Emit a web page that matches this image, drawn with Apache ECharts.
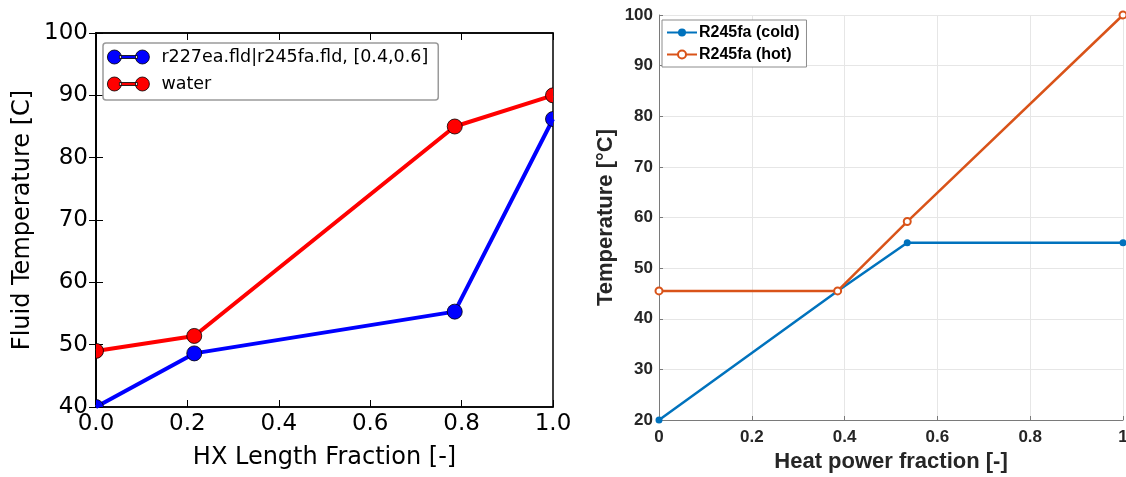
<!DOCTYPE html>
<html>
<head>
<meta charset="utf-8">
<script src="https://cdn.jsdelivr.net/npm/echarts@6/dist/echarts.min.js"></script>
<style>
html,body{margin:0;padding:0;background:#fff;}
#c{width:1126px;height:477px;}
</style>
</head>
<body>
<div id="c"></div>
<script>
// Left chart data
const leftX = [0.0, 0.215, 0.785, 1.0];
const leftMixture = [40.0, 48.6, 55.3, 86.2];
const leftWater = [49.0, 51.4, 85.0, 90.0];
const leftNames = ['r227ea.fld|r245fa.fld, [0.4,0.6]', 'water'];

// Right chart data
const rightX = [0.0, 0.385, 0.535, 1.0];
const rightCold = [20.0, 45.5, 55.0, 55.0];
const rightHot = [45.5, 45.5, 59.2, 100.0];
const rightNames = ['R245fa (cold)', 'R245fa (hot)'];

const pair = (xs, ys) => xs.map((x, i) => [x, ys[i]]);

const chart = echarts.init(document.getElementById('c'), null, {renderer: 'canvas'});

const leftFont = 'DejaVu Sans';
const rightFont = 'Liberation Sans';
const twoDots = 'path://M0,7a7,7 0 1,0 14,0a7,7 0 1,0 -14,0Z M12,5.5h18v3h-18Z M28,7a7,7 0 1,0 14,0a7,7 0 1,0 -14,0Z';

const leftTick = {show: true, inside: true, length: 7, lineStyle: {color: '#000', width: 1}};

function markerSeries(name, data, color, z) {
  return {
    name: name, type: 'custom', xAxisIndex: 0, yAxisIndex: 0,
    data: data, clip: true, z: z, silent: true,
    renderItem: function (params, api) {
      const p = api.coord([api.value(0), api.value(1)]);
      return {
        type: 'circle',
        shape: {cx: p[0], cy: p[1], r: 7.5},
        style: {fill: color, stroke: '#000', lineWidth: 0.8}
      };
    }
  };
}

const option = {
  animation: false,
  backgroundColor: '#fff',
  grid: [
    {left: 96, top: 33, width: 457, height: 374, show: true, borderColor: '#000', borderWidth: 1.5, backgroundColor: 'transparent', containLabel: false, outerBoundsMode: 'none'},
    {left: 659, top: 15, width: 464, height: 405, containLabel: false, outerBoundsMode: 'none'}
  ],
  legend: [
    {
      data: leftNames,
      orient: 'vertical',
      left: 103, top: 43,
      padding: [4, 10, 6, 4],
      itemGap: 7,
      itemWidth: 42, itemHeight: 14,
      icon: twoDots,
      backgroundColor: '#fff',
      borderColor: '#9a9a9a', borderWidth: 1.5, borderRadius: 3,
      textStyle: {fontFamily: leftFont, fontSize: 17.5, color: '#000', lineHeight: 20, padding: [0, 0, 0, 7]},
      itemStyle: {borderColor: '#000', borderWidth: 0.8}
    },
    {
      data: rightNames,
      orient: 'vertical',
      left: 662, top: 20,
      padding: [3, 7, 3, 4],
      itemGap: 3,
      itemWidth: 30, itemHeight: 10,
      backgroundColor: '#fff',
      borderColor: '#8c8c8c', borderWidth: 1, borderRadius: 0,
      textStyle: {fontFamily: rightFont, fontSize: 16, fontWeight: 'bold', color: '#000', lineHeight: 19, padding: [0, 0, 0, -3]}
    }
  ],
  xAxis: [
    {
      gridIndex: 0, type: 'value', min: 0, max: 1, interval: 0.2,
      name: 'HX Length Fraction [-]', nameLocation: 'middle', nameGap: 39,
      nameTextStyle: {fontFamily: leftFont, fontSize: 24, color: '#000'},
      axisLine: {show: true, lineStyle: {color: '#000', width: 1.5}},
      axisTick: leftTick,
      axisLabel: {fontFamily: leftFont, fontSize: 23, color: '#000', margin: 6, formatter: v => v.toFixed(1)},
      splitLine: {show: false}
    },
    {
      gridIndex: 0, type: 'value', min: 0, max: 1, interval: 0.2, position: 'top',
      axisLine: {show: true, lineStyle: {color: '#000', width: 1.5}},
      axisTick: leftTick, axisLabel: {show: false}, splitLine: {show: false}
    },
    {
      gridIndex: 1, type: 'value', min: 0, max: 1, interval: 0.2,
      name: 'Heat power fraction [-]', nameLocation: 'middle', nameGap: 31,
      nameTextStyle: {fontFamily: rightFont, fontSize: 22, fontWeight: 'bold', color: '#262626'},
      axisLine: {show: true, lineStyle: {color: '#7a7a7a', width: 1}},
      axisTick: {show: true, inside: true, length: 4, lineStyle: {color: '#7a7a7a'}},
      axisLabel: {fontFamily: rightFont, fontSize: 17, fontWeight: 'bold', color: '#262626', margin: 9},
      splitLine: {show: true, lineStyle: {color: '#e6e6e6', width: 1}}
    }
  ],
  yAxis: [
    {
      gridIndex: 0, type: 'value', min: 40, max: 100, interval: 10,
      name: 'Fluid Temperature [C]', nameLocation: 'middle', nameGap: 61,
      nameTextStyle: {fontFamily: leftFont, fontSize: 24, color: '#000'},
      axisLine: {show: true, lineStyle: {color: '#000', width: 1.5}},
      axisTick: leftTick,
      axisLabel: {fontFamily: leftFont, fontSize: 23, color: '#000', margin: 8},
      splitLine: {show: false}
    },
    {
      gridIndex: 0, type: 'value', min: 40, max: 100, interval: 10, position: 'right',
      axisLine: {show: true, lineStyle: {color: '#000', width: 1.5}},
      axisTick: leftTick, axisLabel: {show: false}, splitLine: {show: false}
    },
    {
      gridIndex: 1, type: 'value', min: 20, max: 100, interval: 10,
      name: 'Temperature [°C]', nameLocation: 'middle', nameGap: 42,
      nameTextStyle: {fontFamily: rightFont, fontSize: 22, fontWeight: 'bold', color: '#262626'},
      axisLine: {show: true, lineStyle: {color: '#7a7a7a', width: 1}},
      axisTick: {show: true, inside: true, length: 4, lineStyle: {color: '#7a7a7a'}},
      axisLabel: {fontFamily: rightFont, fontSize: 17, fontWeight: 'bold', color: '#262626', margin: 6},
      splitLine: {show: true, lineStyle: {color: '#e6e6e6', width: 1}}
    }
  ],
  series: [
    {
      name: leftNames[0], type: 'line', xAxisIndex: 0, yAxisIndex: 0,
      data: pair(leftX, leftMixture),
      symbol: 'circle', symbolSize: 15, showSymbol: false, clip: true,
      lineStyle: {color: '#0000ff', width: 4},
      itemStyle: {color: '#0000ff', borderColor: '#000', borderWidth: 0.8},
      z: 3
    },
    markerSeries('mixMarkers', pair(leftX, leftMixture), '#0000ff', 4),
    {
      name: leftNames[1], type: 'line', xAxisIndex: 0, yAxisIndex: 0,
      data: pair(leftX, leftWater),
      symbol: 'circle', symbolSize: 15, showSymbol: false, clip: true,
      lineStyle: {color: '#ff0000', width: 4},
      itemStyle: {color: '#ff0000', borderColor: '#000', borderWidth: 0.8},
      z: 5
    },
    markerSeries('waterMarkers', pair(leftX, leftWater), '#ff0000', 6),
    {
      name: rightNames[0], type: 'line', xAxisIndex: 2, yAxisIndex: 2,
      data: pair(rightX, rightCold),
      symbol: 'circle', symbolSize: 7, clip: false,
      lineStyle: {color: '#0072BD', width: 2.5},
      itemStyle: {color: '#0072BD'},
      z: 3
    },
    {
      name: rightNames[1], type: 'line', xAxisIndex: 2, yAxisIndex: 2,
      data: pair(rightX, rightHot),
      symbol: 'emptyCircle', symbolSize: 7, clip: false,
      lineStyle: {color: '#D95319', width: 2.5},
      itemStyle: {color: '#D95319', borderWidth: 2},
      z: 4
    }
  ]
};
chart.setOption(option);
</script>
</body>
</html>
